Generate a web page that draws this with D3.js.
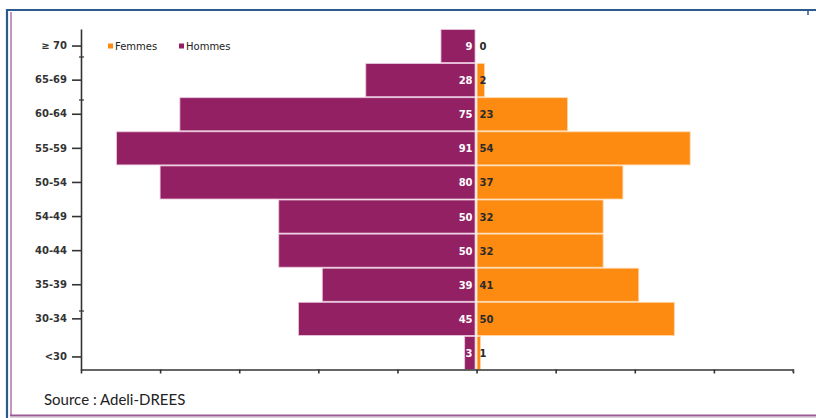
<!DOCTYPE html>
<html>
<head>
<meta charset="utf-8">
<script src="https://cdn.jsdelivr.net/npm/d3@7/dist/d3.min.js"></script>
<style>
  html, body { margin: 0; padding: 0; background: #fff; }
  svg { display: block; }
</style>
</head>
<body>
<svg id="chart" width="816" height="418"></svg>
<script>
const categories = ["≥ 70", "65-69", "60-64", "55-59", "50-54", "54-49", "40-44", "35-39", "30-34", "<30"];
const hommes = [9, 28, 75, 91, 80, 50, 50, 39, 45, 3];
const femmes = [0, 2, 23, 54, 37, 32, 32, 41, 50, 1];
const xTicks = [-100, -80, -60, -40, -20, 0, 20, 40, 60, 80];
const seriesNames = ["Femmes", "Hommes"];

const colF = "#fd8b12";
const colH = "#932063";

const svg = d3.select("#chart");

// frame
svg.append("line").attr("x1", 6).attr("x2", 816).attr("y1", 10).attr("y2", 10)
  .attr("stroke", "#2d5a8c").attr("stroke-width", 2.2);
svg.append("line").attr("x1", 7).attr("x2", 7).attr("y1", 9).attr("y2", 418)
  .attr("stroke", "#2d5a8c").attr("stroke-width", 2.2);
svg.append("line").attr("x1", 808).attr("x2", 808).attr("y1", 9).attr("y2", 15)
  .attr("stroke", "#2d5a8c").attr("stroke-width", 1.5);
svg.append("line").attr("x1", 11).attr("x2", 11).attr("y1", 12).attr("y2", 416)
  .attr("stroke", "#b57bb0").attr("stroke-width", 1.6);
svg.append("line").attr("x1", 10).attr("x2", 816).attr("y1", 415.5).attr("y2", 415.5)
  .attr("stroke", "#9b5a95").attr("stroke-width", 2);
svg.append("line").attr("x1", 10).attr("x2", 816).attr("y1", 417.5).attr("y2", 417.5)
  .attr("stroke", "#d8d8d8").attr("stroke-width", 1);

const x = d3.scaleLinear().domain([-100, 80]).range([81, 793]);
const y = d3.scaleBand().domain(categories).range([29, 370]).padding(0);

const rows = categories.map((c, i) => ({ c, h: hommes[i], f: femmes[i] }));

// bars
const g = svg.append("g");
g.selectAll("rect.h").data(rows).enter().append("rect")
  .attr("class", "h")
  .attr("x", d => x(-d.h))
  .attr("y", d => y(d.c) + 0.5)
  .attr("width", d => Math.max(0, x(0) - 1.5 - x(-d.h)))
  .attr("height", y.bandwidth() - 1)
  .attr("fill", colH)
  .attr("stroke", "#e9c6dd").attr("stroke-width", 0.8);
g.selectAll("rect.f").data(rows.filter(d => d.f > 0)).enter().append("rect")
  .attr("class", "f")
  .attr("x", x(0) + 0.5)
  .attr("y", d => y(d.c) + 0.5)
  .attr("width", d => Math.max(0, x(d.f) - x(0) - 0.5))
  .attr("height", y.bandwidth() - 1)
  .attr("fill", colF)
  .attr("stroke", "#ffd6a8").attr("stroke-width", 0.8);

// value labels
const lblFont = "DejaVu Sans, Verdana, sans-serif";
g.selectAll("text.hl").data(rows).enter().append("text")
  .attr("x", x(0) - 4)
  .attr("y", d => y(d.c) + y.bandwidth() / 2 + 4)
  .attr("text-anchor", "end")
  .attr("font-family", lblFont).attr("font-size", 10).attr("font-weight", "bold")
  .attr("fill", "#fff")
  .text(d => d.h);
g.selectAll("text.fl").data(rows).enter().append("text")
  .attr("x", x(0) + 3)
  .attr("y", d => y(d.c) + y.bandwidth() / 2 + 4)
  .attr("text-anchor", "start")
  .attr("font-family", lblFont).attr("font-size", 10).attr("font-weight", "bold")
  .attr("fill", "#2a2a2a")
  .text(d => d.f);

// axes
const yAxis = svg.append("g").attr("transform", "translate(81,0)")
  .call(d3.axisLeft(y).tickSize(9).tickSizeOuter(0).tickPadding(5));
yAxis.select(".domain").attr("stroke", "#333").attr("stroke-width", 1.6);
yAxis.selectAll(".tick line").attr("stroke", "#333").attr("stroke-width", 1.6);
yAxis.selectAll(".tick text").attr("font-family", lblFont).attr("font-size", 10)
  .attr("font-weight", "bold").attr("fill", "#333");
// last category tick sits slightly lower in the reference
yAxis.selectAll(".tick").filter(d => d === "<30")
  .attr("transform", d => `translate(0,${y(d) + y.bandwidth() / 2 + 4})`);

const xAxis = svg.append("g").attr("transform", "translate(0,369.5)")
  .call(d3.axisBottom(x).tickValues(xTicks).tickSize(4).tickSizeOuter(0).tickFormat(""));
xAxis.select(".domain").attr("stroke", "#333").attr("stroke-width", 1.6);
xAxis.selectAll(".tick line").attr("stroke", "#333").attr("stroke-width", 1.6);

// small axis artifacts
[57, 100, 311].forEach(v => {
  svg.append("line").attr("x1", 79).attr("x2", 84).attr("y1", v).attr("y2", v)
    .attr("stroke", "#333").attr("stroke-width", 1.2);
});
svg.append("line").attr("x1", 793).attr("x2", 793).attr("y1", 369).attr("y2", 372)
  .attr("stroke", "#555").attr("stroke-width", 1.5);

// legend
const legend = svg.append("g");
const legX = [108, 179];
const legCol = [colF, colH];
seriesNames.forEach((n, i) => {
  legend.append("rect").attr("x", legX[i]).attr("y", 43.5).attr("width", 5).attr("height", 5)
    .attr("fill", legCol[i]);
  legend.append("text").attr("x", legX[i] + 7).attr("y", 50)
    .attr("font-family", lblFont).attr("font-size", 10).attr("fill", "#222")
    .text(n);
});

// source
svg.append("text").attr("x", 44).attr("y", 405)
  .attr("font-family", "Lato, 'Open Sans', sans-serif").attr("font-size", 15)
  .attr("fill", "#222")
  .text("Source : Adeli-DREES");
</script>
</body>
</html>
